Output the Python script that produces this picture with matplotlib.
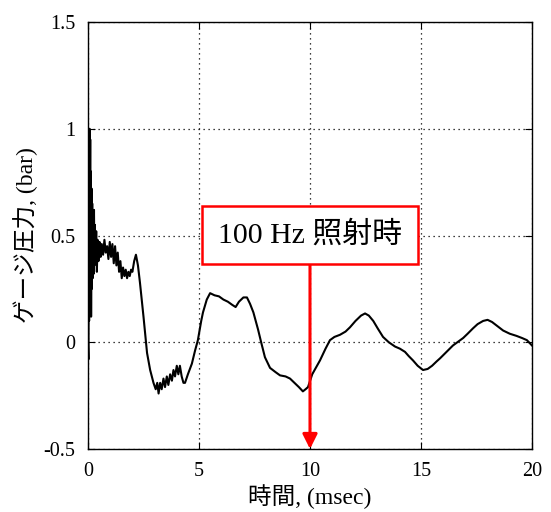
import matplotlib
matplotlib.use('Agg')
import matplotlib.pyplot as plt

# Gauge pressure trace
time_ms = [
    0.00, 0.02, 0.04, 0.05, 0.07, 0.08, 0.10, 0.11, 0.13, 0.14, 0.16, 0.17, 0.19,
    0.21, 0.23, 0.25, 0.27, 0.29, 0.31, 0.34, 0.37, 0.40, 0.43, 0.47, 0.52, 0.57,
    0.62, 0.68, 0.74, 0.80, 0.86, 0.92, 0.98, 1.04, 1.10, 1.16, 1.22, 1.28, 1.34,
    1.40, 1.46, 1.52, 1.58, 1.64, 1.70, 1.76, 1.82, 1.88, 1.94, 2.00, 2.08, 2.16,
    2.25, 2.34, 2.50, 2.66, 2.80, 2.95, 3.05, 3.12, 3.18, 3.25, 3.32, 3.40, 3.47,
    3.55, 3.62, 3.70, 3.78, 3.85, 3.92, 4.00, 4.07, 4.14, 4.22, 4.30, 4.37, 4.50,
    4.68, 4.82, 4.95, 5.10, 5.18, 5.35, 5.50, 5.70, 5.90, 6.10, 6.30, 6.50, 6.65,
    6.80, 7.00, 7.16, 7.30, 7.45, 7.66, 7.80, 7.97, 8.20, 8.45, 8.65, 8.90, 9.10,
    9.30, 9.50, 9.68, 9.80, 9.91, 10.10, 10.45, 10.70, 10.90, 11.10, 11.35, 11.60,
    11.80, 12.05, 12.30, 12.48, 12.65, 12.85, 13.05, 13.29, 13.55, 13.83, 14.05,
    14.28, 14.45, 14.64, 14.85, 15.09, 15.30, 15.50, 15.70, 15.86, 16.10, 16.44,
    16.70, 16.90, 17.10, 17.34, 17.55, 17.80, 18.00, 18.20, 18.45, 18.70, 19.00,
    19.30, 19.55, 19.77, 20.00,
]
pressure_bar = [
    0.00, -0.08, 0.55, 0.10, 1.00, 0.20, 0.95, 0.15, 0.80, 0.12, 0.72, 0.25, 0.65,
    0.30, 0.60, 0.32, 0.62, 0.36, 0.55, 0.40, 0.52, 0.33, 0.48, 0.38, 0.47, 0.40,
    0.46, 0.41, 0.48, 0.42, 0.45, 0.39, 0.47, 0.40, 0.46, 0.37, 0.45, 0.36, 0.42,
    0.33, 0.38, 0.30, 0.35, 0.31, 0.34, 0.30, 0.33, 0.31, 0.34, 0.33, 0.38, 0.41,
    0.36, 0.28, 0.12, -0.05, -0.13, -0.19, -0.22, -0.19, -0.24, -0.19, -0.22, -0.17, -0.21,
    -0.16, -0.20, -0.15, -0.18, -0.13, -0.16, -0.11, -0.15, -0.11, -0.16, -0.19, -0.19, -0.15,
    -0.10, -0.04, 0.01, 0.10, 0.14, 0.20, 0.23, 0.22, 0.215, 0.20, 0.19, 0.175, 0.165,
    0.19, 0.21, 0.21, 0.18, 0.14, 0.06, 0.00, -0.07, -0.12, -0.14, -0.155, -0.16, -0.17,
    -0.19, -0.21, -0.23, -0.22, -0.21, -0.15, -0.085, -0.03, 0.01, 0.025, 0.035, 0.05,
    0.07, 0.10, 0.125, 0.135, 0.125, 0.10, 0.065, 0.025, 0.00, -0.02, -0.03,
    -0.045, -0.065, -0.085, -0.11, -0.13, -0.125, -0.11, -0.09, -0.075, -0.05, -0.015,
    0.005, 0.02, 0.04, 0.065, 0.085, 0.10, 0.105, 0.095, 0.075, 0.055, 0.04,
    0.03, 0.02, 0.01, -0.015,
]

x_ticks = [0, 5, 10, 15, 20]
y_ticks = [-0.5, 0, 0.5, 1, 1.5]
y_tick_labels = ['-0.5', '0', '0.5', '1', '1.5']

label_text = '100 Hz 照射時'
label_time = 10
label_level = 0.503

# Latin in Times-like serif, Japanese falls back to a gothic face
fonts = ['Liberation Serif', 'Noto Sans CJK JP']
plt.rcParams['font.family'] = fonts

fig = plt.figure(figsize=(5.51, 5.12), dpi=100)
ax = fig.add_axes([0.1597, 0.123, 0.8058, 0.834])

ax.plot(time_ms, pressure_bar, color='black', linewidth=1.5)

ax.set_xlim(0, 20)
ax.set_ylim(-0.5, 1.5)
ax.set_xticks(x_ticks)
ax.set_yticks(y_ticks)
ax.set_yticklabels(y_tick_labels)
ax.tick_params(direction='in', top=True, right=True, labelsize=14.5, length=5, pad=9)
ax.grid(True, color='black', linestyle=(0, (1, 3)), linewidth=0.9)
for s in ax.spines.values():
    s.set_linewidth(1.0)

ax.set_xlabel('時間, (msec)', fontsize=17, labelpad=3)
ax.set_ylabel('ゲージ圧力, (bar)', fontsize=17, labelpad=4)

# Boxed label with a red arrow down to the time axis
ax.annotate(label_text, xy=(label_time, -0.5), xytext=(label_time, label_level),
            ha='center', va='center', fontsize=21.5, color='black',
            bbox=dict(boxstyle='square,pad=0.52', facecolor='white', edgecolor='red', linewidth=1.8),
            arrowprops=dict(arrowstyle='-|>', color='red', lw=2.2, mutation_scale=22,
                            shrinkA=0, shrinkB=0),
            zorder=5)

fig.savefig('out.png', dpi=100)
